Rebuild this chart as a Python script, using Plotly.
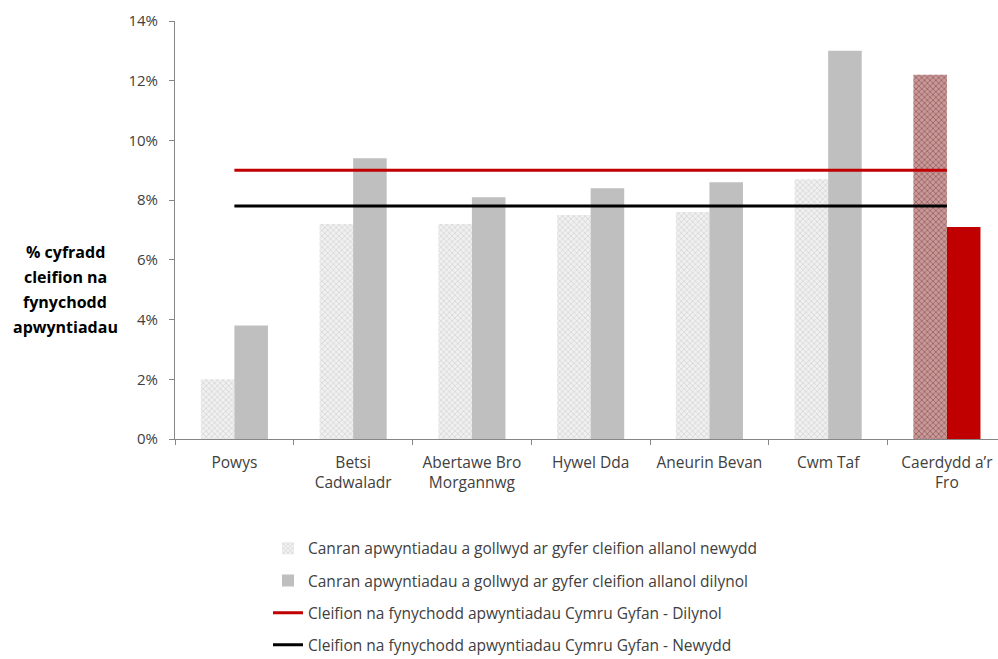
import plotly.graph_objects as go

categories = ["Powys", "Betsi<br>Cadwaladr", "Abertawe Bro<br>Morgannwg", "Hywel Dda",
              "Aneurin Bevan", "Cwm Taf", "Caerdydd a’r<br>Fro"]
new_pct = [2.0, 7.2, 7.2, 7.5, 7.6, 8.7, 12.2]
followup_pct = [3.8, 9.4, 8.1, 8.4, 8.6, 13.0, 7.1]
wales_followup = 9.0
wales_new = 7.8

names = [
    "Canran apwyntiadau a gollwyd ar gyfer cleifion allanol newydd",
    "Canran apwyntiadau a gollwyd ar gyfer cleifion allanol dilynol",
    "Cleifion na fynychodd apwyntiadau Cymru Gyfan - Dilynol",
    "Cleifion na fynychodd apwyntiadau Cymru Gyfan - Newydd",
]
ytitle_lines = ["% cyfradd", "cleifion na", "fynychodd", "apwyntiadau"]

FONT = "Open Sans"
n = len(categories)
pat_fg = ["#bcbcbc"] * (n - 1) + ["#6e1a1a"]
pat_bg = ["#f0f0f0"] * (n - 1) + ["#c79a9a"]
solid = ["#bfbfbf"] * (n - 1) + ["#c00000"]

fig = go.Figure()
fig.add_trace(go.Bar(
    x=categories, y=new_pct, name=names[0], legendgroup="a",
    marker=dict(color="#f0f0f0", line_width=0,
                pattern=dict(shape="x", size=4, solidity=0.35, fgcolor=pat_fg, bgcolor=pat_bg)),
))
fig.add_trace(go.Bar(
    x=categories, y=followup_pct, name=names[1], legendgroup="b",
    marker=dict(color=solid, line_width=0),
))
fig.add_trace(go.Scatter(
    x=categories, y=[wales_followup] * n, name=names[2], legendgroup="c",
    mode="lines", line=dict(color="#c00000", width=3),
))
fig.add_trace(go.Scatter(
    x=categories, y=[wales_new] * n, name=names[3], legendgroup="d",
    mode="lines", line=dict(color="#000000", width=3),
))

# plot area spans y=21..439 px; title lines centred at px rows below
title_rows = [252, 277, 302, 327]
annotations = []
for txt, row in zip(ytitle_lines, title_rows):
    annotations.append(dict(
        text=f"<b>{txt}</b>", xref="paper", yref="paper",
        x=(65 - 175) / 823, y=(439 - row) / 418, xanchor="center", yanchor="middle",
        showarrow=False, font=dict(family=FONT, size=16, color="#000000"),
    ))

fig.update_layout(
    width=998, height=659,
    margin=dict(l=175, r=0, t=21, b=220, autoexpand=False),
    paper_bgcolor="white", plot_bgcolor="white",
    barmode="group", bargap=0.435, bargroupgap=0,
    font=dict(family=FONT, size=15, color="#404040"),
    showlegend=True,
    legend=dict(x=0.113, y=-0.222, xanchor="left", yanchor="top",
                orientation="v", tracegroupgap=9,
                font=dict(family=FONT, size=15.5, color="#404040"),
                itemwidth=30),
    xaxis=dict(range=[-0.5, 6.43], showline=True, linecolor="#868686", linewidth=1,
               ticks="outside", tickson="boundaries", ticklen=5, tickcolor="#868686",
               ticklabelstandoff=9,
               tickfont=dict(size=15.5, color="#404040"), showgrid=False),
    yaxis=dict(range=[0, 14], dtick=2, ticksuffix="%", showline=True, linecolor="#868686",
               linewidth=1, ticks="outside", ticklen=5, tickcolor="#868686",
               ticklabelstandoff=8,
               showgrid=False, zeroline=False,
               tickfont=dict(size=15, color="#404040")),
    annotations=annotations,
)

fig.write_html("out.html", config={"displayModeBar": False},
               post_script="document.body.style.margin='0';")
